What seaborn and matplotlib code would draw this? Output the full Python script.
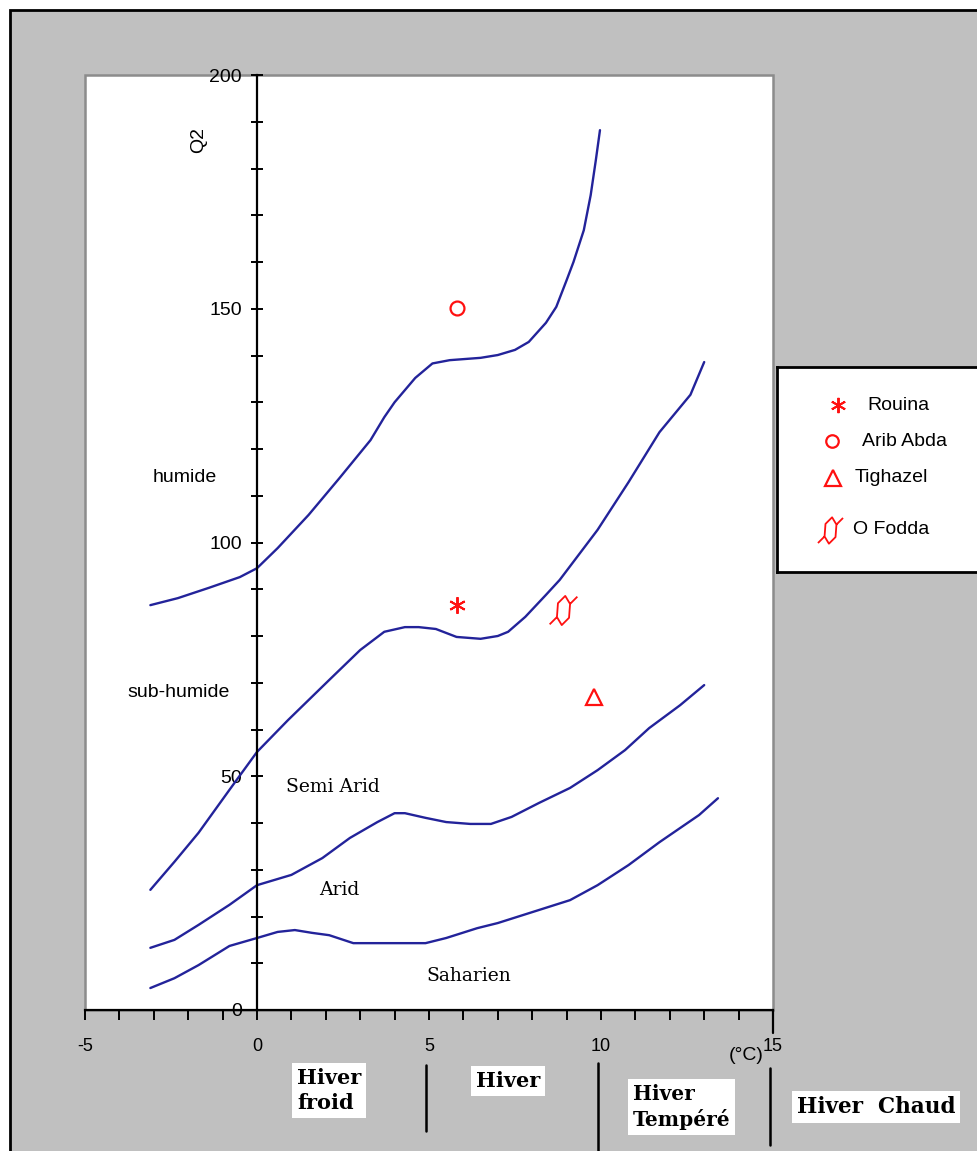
import numpy as np
import pandas as pd
import seaborn as sns
import matplotlib.pyplot as plt
import matplotlib.transforms as mtransforms
from matplotlib.path import Path
from matplotlib.patches import Rectangle

# --- Emberger climagram: limits between bioclimatic stages (T = m in °C, Q2) ---
humide_T = [-3.1, -2.3, -1.4, -0.5, 0.0, 0.6, 1.5, 2.4, 3.3, 3.7, 4.0, 4.6, 5.1, 5.6, 6.5, 7.0,
            7.5, 7.9, 8.4, 8.7, 9.0, 9.2, 9.5, 9.7, 9.85, 9.97]
humide_Q = [86.6, 88.1, 90.3, 92.6, 94.5, 98.8, 105.9, 113.8, 121.9, 126.8, 130.0, 135.2, 138.3,
            139.0, 139.5, 140.1, 141.2, 142.9, 147.0, 150.4, 156.1, 160.0, 166.8, 174.3,
            181.8, 188.2]

subhum_T = [-3.1, -2.4, -1.7, -0.8, 0.0, 0.9, 2.1, 3.0, 3.7, 4.3, 4.7, 5.2, 5.8, 6.5, 7.0,
            7.3, 7.8, 8.4, 8.8, 9.9, 10.8, 11.7, 12.6, 13.0]
subhum_Q = [25.7, 31.7, 37.9, 47.1, 55.2, 62.0, 70.6, 77.0, 80.9, 81.9, 81.9, 81.5, 79.8,
            79.4, 80.0, 80.9, 84.1, 88.8, 92.0, 102.7, 112.9, 123.6, 131.6, 138.6]

semiarid_T = [-3.1, -2.4, -1.7, -0.8, 0.0, 1.0, 1.9, 2.7, 3.5, 4.0, 4.3, 4.9, 5.5, 6.2,
              6.8, 7.4, 8.2, 9.1, 9.9, 10.7, 11.4, 12.3, 13.0]
semiarid_Q = [13.3, 15.0, 18.2, 22.5, 26.7, 28.9, 32.5, 36.8, 40.2, 42.1, 42.1, 41.1, 40.2,
              39.8, 39.8, 41.3, 44.3, 47.5, 51.3, 55.6, 60.3, 65.2, 69.5]

arid_T = [-3.1, -2.4, -1.7, -0.8, 0.0, 0.6, 1.1, 1.6, 2.1, 2.8, 4.9, 5.5, 6.4, 7.0, 8.2,
          9.1, 9.9, 10.8, 11.7, 12.85, 13.4]
arid_Q = [4.7, 6.8, 9.6, 13.7, 15.4, 16.7, 17.1, 16.5, 16.0, 14.3, 14.3, 15.4, 17.5, 18.6,
          21.4, 23.5, 26.7, 31.0, 35.9, 41.7, 45.3]

# --- stations ---
stations = ["Rouina", "Arib Abda", "Tighazel", "O Fodda"]
station_T = [5.8, 5.8, 9.8, 8.9]
station_Q = [86.6, 150.2, 67.0, 85.6]

# --- stage names and winter classes ---
stage_labels = ["humide", "sub-humide"]
stage_label_T = [-2.1, -2.27]
stage_label_Q = [113.8, 68.0]
serif_labels = ["Semi Arid", "Arid", "Saharien"]
serif_label_T = [2.2, 2.38, 6.15]
serif_label_Q = [47.7, 25.7, 7.3]
winter_bounds = [5, 10, 15]

x_major = [-5, 0, 5, 10, 15]
y_major = [0, 50, 100, 150, 200]

curves = {"humide": (humide_T, humide_Q), "sub-humide": (subhum_T, subhum_Q),
          "semi-aride": (semiarid_T, semiarid_Q), "aride": (arid_T, arid_Q)}
df = pd.concat([pd.DataFrame({"T": t, "Q2": q, "limite": k}) for k, (t, q) in curves.items()],
               ignore_index=True)

sns.set_theme(style="white")
plt.rcParams["font.family"] = ["Liberation Sans", "DejaVu Sans"]
plt.rcParams["text.color"] = "black"
plt.rcParams["xtick.color"] = "black"
plt.rcParams["ytick.color"] = "black"

W, H = 977, 1151
fig = plt.figure(figsize=(W / 100, H / 100), dpi=100)
fig.patch.set_facecolor("white")


def fx(px):
    return px / W


def fy(py):
    return 1 - py / H


# grey page with black frame on top and left
fig.patches.append(Rectangle((fx(10), -0.02), 1.0, fy(10) + 0.02, transform=fig.transFigure,
                             facecolor="#c0c0c0", edgecolor="black", lw=2, zorder=-10))

ax = fig.add_axes([fx(85), fy(1010), fx(773) - fx(85), fy(75) - fy(1010)])
ax.set_facecolor("white")
ax.set_xlim(-5, 15)
ax.set_ylim(0, 200)

LINE = "#23239a"
sns.lineplot(data=df, x="T", y="Q2", units="limite", estimator=None, sort=False,
             color=LINE, lw=1.7, ax=ax, legend=False)

# station markers
RED = "#ff1010"
fodda_marker = Path(
    [(0.12, 1.0), (0.45, 0.45), (0.38, -0.5), (-0.12, -1.0), (-0.45, -0.45), (-0.38, 0.5),
     (0.12, 1.0), (0.45, 0.45), (0.95, 0.95), (-0.45, -0.45), (-0.95, -0.95)],
    [Path.MOVETO, Path.LINETO, Path.LINETO, Path.LINETO, Path.LINETO, Path.LINETO, Path.CLOSEPOLY,
     Path.MOVETO, Path.LINETO, Path.MOVETO, Path.LINETO])
marker_style = {
    "Rouina": dict(marker=(6, 2, 0), ms=12, mew=1.4),
    "Arib Abda": dict(marker="o", ms=10, mew=1.6),
    "Tighazel": dict(marker="^", ms=12, mew=1.6),
    "O Fodda": dict(marker=fodda_marker, ms=21, mew=1.3),
}
for name, t, q in zip(stations, station_T, station_Q):
    ax.plot([t], [q], linestyle="none", color=RED, mfc="none", mec=RED, **marker_style[name])

# axes: y axis through T = 0
ax.spines["left"].set_position(("data", 0))
for s in ["top", "right"]:
    ax.spines[s].set_visible(False)
for s in ["left", "bottom"]:
    ax.spines[s].set_color("black")
    ax.spines[s].set_linewidth(1.6)
ax.add_patch(Rectangle((0, 0), 1, 1, transform=ax.transAxes, fill=False,
                       edgecolor="#8c8c8c", lw=1.8, clip_on=False, zorder=0.5))

ax.set_xticks(x_major)
ax.set_xticks(np.arange(-5, 16, 1), minor=True)
ax.set_yticks(y_major)
ax.set_yticks(np.arange(0, 201, 10), minor=True)
ax.set_xticklabels([str(v) for v in x_major])
ax.set_yticklabels([str(v) for v in y_major])
ax.tick_params(axis="x", which="both", bottom=True, direction="out", length=7, width=1.4,
               color="black", labelcolor="black", labelsize=13, pad=13)
ax.tick_params(axis="y", which="both", left=True, direction="inout", length=8, width=1.4,
               color="black", labelcolor="black", labelsize=14, pad=7)
ax.set_xlabel("")
ax.set_ylabel("")
ax.plot([15, 15], [0, -5], color="black", lw=1.6, clip_on=False)

ax.text(-1.69, 186.1, "Q2", rotation=90, ha="center", va="center", fontsize=14)
for s, t, q in zip(stage_labels, stage_label_T, stage_label_Q):
    ax.text(t, q, s, ha="center", va="center", fontsize=14)
for s, t, q in zip(serif_labels, serif_label_T, serif_label_Q):
    ax.text(t, q, s, ha="center", va="center", fontsize=13.5, family="DejaVu Serif")

fig.text(fx(746), fy(1056), "(°C)", ha="center", va="center", fontsize=14)

# winter classes under the temperature axis
tr = mtransforms.blended_transform_factory(ax.transData, fig.transFigure)
bound_y = [(1065, 1131), (1063, 1151), (1068, 1145)]
for xb, (y0, y1) in zip(winter_bounds, bound_y):
    ax.plot([xb - 0.1, xb - 0.1], [fy(y0), fy(y1)], color="black", lw=1.8,
            transform=tr, clip_on=False)

box = dict(facecolor="white", edgecolor="none", pad=3.5)
bold = dict(family="DejaVu Serif", fontweight="bold", bbox=box, linespacing=1.3)
fig.text(fx(297), fy(1068), "Hiver\nfroid", ha="left", va="top", fontsize=15, **bold)
fig.text(fx(508), fy(1081), "Hiver", ha="center", va="center", fontsize=15, **bold)
fig.text(fx(633), fy(1084), "Hiver\nTempéré", ha="left", va="top", fontsize=14.5, **bold)
fig.text(fx(876), fy(1107), "Hiver  Chaud", ha="center", va="center", fontsize=15.5, **bold)

# legend box
lg = fig.add_axes([fx(777), fy(572), 0.3, fy(367) - fy(572)])
lg.set_xlim(777, 777 + 0.3 * W)
lg.set_ylim(572, 367)
lg.set_facecolor("white")
lg.set_xticks([])
lg.set_yticks([])
for s in lg.spines.values():
    s.set_color("black")
    s.set_linewidth(2)
leg_mx = [838, 832, 833, 830]
leg_my = [405, 441, 478, 530]
leg_tx = [867, 862, 855, 853]
leg_ms = [11, 9, 11, 19]
for name, mx, my, tx, ms in zip(stations, leg_mx, leg_my, leg_tx, leg_ms):
    st = dict(marker_style[name])
    st["ms"] = ms
    lg.plot([mx], [my], linestyle="none", color=RED, mfc="none", mec=RED, **st)
    lg.text(tx, my, name, ha="left", va="center", fontsize=14)

fig.savefig("out.png", dpi=100)
